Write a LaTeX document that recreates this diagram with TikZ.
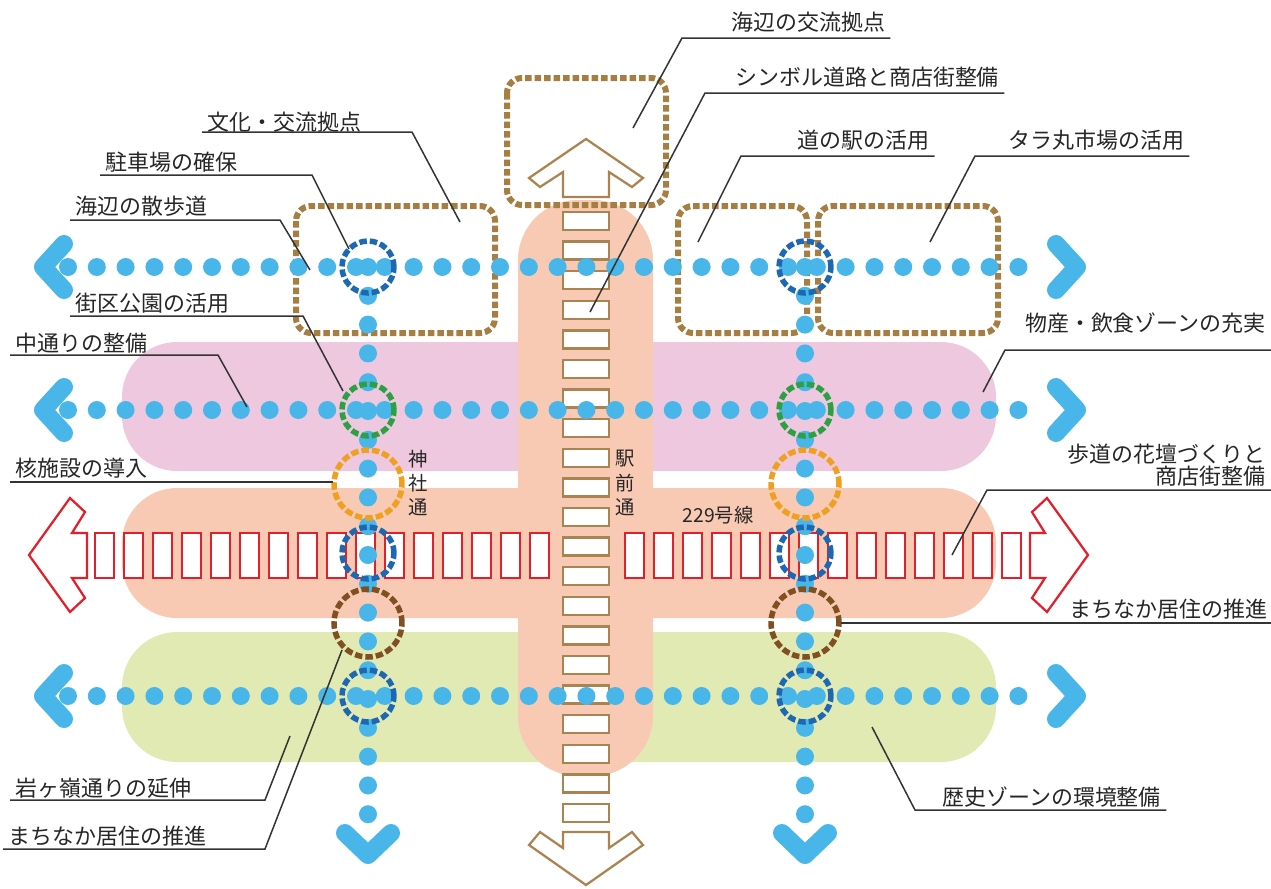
\documentclass[tikz,border=0pt]{standalone}
\usepackage{fontspec}
\newfontfamily\jpfont{Noto Sans CJK JP}
\usetikzlibrary{positioning}
\definecolor{dotblue}{RGB}{72,182,232}
\definecolor{ringblue}{RGB}{28,104,178}
\definecolor{ringgreen}{RGB}{44,160,66}
\definecolor{ringorange}{RGB}{240,160,32}
\definecolor{ringbrown}{RGB}{128,80,32}
\definecolor{boxbrown}{RGB}{166,126,66}
\definecolor{roadbrown}{RGB}{170,132,80}
\definecolor{roadred}{RGB}{226,32,44}
\definecolor{bandpink}{RGB}{238,200,222}
\definecolor{bandsalmon}{RGB}{248,202,180}
\definecolor{bandgreen}{RGB}{226,234,180}

\begin{document}
\begin{tikzpicture}[x=0.2mm, y=-0.2mm,
  band/.style={rounded corners=11mm},
  area/.style={draw=boxbrown, line width=1.2mm, dash pattern=on 1.3mm off 0.6mm, rounded corners=3mm},
  walk/.style={draw=dotblue, line width=3.6mm, line cap=round, dash pattern=on 0mm off 5.76mm},
  chev/.style={draw=dotblue, line width=3.6mm, line cap=round, line join=round},
  ring/.style={line width=1.1mm, dash pattern=on 1.5mm off 0.6mm},
  road/.style={draw=roadred, fill=white, line width=0.45mm},
  sroad/.style={draw=roadbrown, fill=white, line width=0.45mm},
  lbl/.style={font=\jpfont\fontsize{12.5}{13}\selectfont, text=black!85, inner xsep=1mm, inner ysep=0pt},
  rlbl/.style={font=\jpfont\fontsize{11}{13.7}\selectfont, text=black!85, inner sep=0pt, align=center},
  lead/.style={draw=black!80, line width=0.3mm}
]
\useasboundingbox (0,0) rectangle (1271,888);

% zones
\fill[bandpink, band] (122,342) rectangle (996,471);
\fill[bandsalmon, band] (122,488) rectangle (996,618);
\fill[bandgreen, band] (122,632) rectangle (996,762);
\fill[bandsalmon, rounded corners=12mm] (518,200) rectangle (653,776);

% dashed areas
\draw[area] (507,78) rectangle (666,205);
\draw[area] (296,206) rectangle (495,333);
\draw[area] (678,206) rectangle (807,333);
\draw[area] (818,206) rectangle (998,333);

% 229号線
\foreach \i in {0,...,15}
  \draw[road] ({95+29*\i},533) rectangle ++(19,45);
\foreach \i in {0,...,13}
  \draw[road] ({1002-29*\i},533) rectangle ++(19,45);
\draw[road] (87,533) -- (72,533) -- (85,512) -- (70,498) -- (29,555) -- (70,612)
  -- (85,598) -- (72,578) -- (87,578) -- cycle;
\draw[road] (1030,533) -- (1045,533) -- (1032,512) -- (1047,498) -- (1088,555) -- (1047,612)
  -- (1032,598) -- (1045,578) -- (1030,578) -- cycle;

% 駅前通
\foreach \i in {0,...,20}
  \draw[sroad] (563,{212+29.6*\i}) rectangle ++(46,18);
\draw[sroad] (563,197) -- (563,172) -- (540,187) -- (529,178) -- (586,139) -- (643,178)
  -- (632,187) -- (609,172) -- (609,197) -- cycle;
\draw[sroad] (563,832) -- (609,832) -- (609,848) -- (632,832) -- (643,845) -- (586,885)
  -- (529,845) -- (540,832) -- (563,848) -- cycle;

% walkways
\foreach \yy in {267,410,696} {
  \draw[walk] (68,\yy) -- (1024,\yy);
  \draw[chev] (64,{\yy-23}) -- (43,\yy) -- (64,{\yy+23});
  \draw[chev] (1056,{\yy-23}) -- (1077,\yy) -- (1056,{\yy+23});
}
\foreach \xx in {368,805} {
  \draw[walk] (\xx,267) -- (\xx,815);
  \draw[chev] ({\xx-23},833) -- (\xx,855) -- ({\xx+23},833);
}

% rings
\foreach \xx in {368,805} {
  \draw[ring, ringblue] (\xx,267) circle[radius=5.2mm];
  \draw[ring, ringgreen] (\xx,410) circle[radius=5.2mm];
  \draw[ring, ringorange] (\xx,484) circle[radius=6.8mm];
  \draw[ring, ringblue] (\xx,553) circle[radius=5.2mm];
  \draw[ring, ringbrown] (\xx,623) circle[radius=6.8mm];
  \draw[ring, ringblue] (\xx,696) circle[radius=5.2mm];
}

% road names
\node[rlbl] (jinja) at (418,483) {神\\社\\通};
\node[rlbl] (ekimae) at (625,483) {駅\\前\\通};
\node[rlbl] (r229) at (718,515) {229号線};

% labels, top
\node[lbl, anchor=base west] (umikyo) at (726,30) {海辺の交流拠点};
\draw[lead] (633,128) -- (682,38) coordinate (k1) -- (k1 -| umikyo.east);
\node[lbl, anchor=base west] (symbol) at (730,85) {シンボル道路と商店街整備};
\draw[lead] (590,312) -- (705,93) coordinate (k2) -- (k2 -| symbol.east);
\node[lbl, anchor=base west] (michieki) at (792,148) {道の駅の活用};
\draw[lead] (698,242) -- (741,156) coordinate (k3) -- (k3 -| michieki.east);
\node[lbl, anchor=base west] (taramaru) at (1003,148) {タラ丸市場の活用};
\draw[lead] (930,242) -- (975,156) coordinate (k4) -- (k4 -| taramaru.east);

% labels, left
\node[lbl, anchor=base west] (bunka) at (202,130) {文化・交流拠点};
\draw[lead] (460,222) -- (412,132) coordinate (k5) -- (k5 -| bunka.west);
\node[lbl, anchor=base west] (parking) at (100,170) {駐車場の確保};
\draw[lead] (349,249) -- (312,175) coordinate (k6) -- (k6 -| parking.west);
\node[lbl, anchor=base west] (sanpo) at (70,214) {海辺の散歩道};
\draw[lead] (310,270) -- (280,220) coordinate (k7) -- (k7 -| sanpo.west);
\node[lbl, anchor=base west] (gaiku) at (70,311) {街区公園の活用};
\draw[lead] (343,391) -- (303,316) coordinate (k8) -- (k8 -| gaiku.west);
\node[lbl, anchor=base west] (naka) at (10,351) {中通りの整備};
\draw[lead] (247,407) -- (218,355) coordinate (k9) -- (k9 -| naka.west);
\node[lbl, anchor=base west] (kaku) at (10,476) {核施設の導入};
\draw[lead] (333,482) coordinate (k10) -- (k10 -| kaku.west);
\node[lbl, anchor=base west] (iwa) at (10,796) {岩ヶ嶺通りの延伸};
\draw[lead] (290,736) -- (265,800) coordinate (k11) -- (k11 -| iwa.west);
\node[lbl, anchor=base west] (machiL) at (3,844) {まちなか居住の推進};
\draw[lead] (342,650) -- (265,849) coordinate (k12) -- (k12 -| machiL.west);

% labels, right
\node[lbl, anchor=base east] (bussan) at (1271,331) {物産・飲食ゾーンの充実};
\draw[lead] (983,392) -- (1005,350) -- (1271,350);
\node[lbl, anchor=south east, align=right] (hodo) at (1271,487) {歩道の花壇づくりと\\商店街整備};
\draw[lead] (952,555) -- (987,490) -- (1271,490);
\node[lbl, anchor=base east] (machiR) at (1273,617) {まちなか居住の推進};
\draw[lead] (841,623) -- (1271,623);
\node[lbl, anchor=base west] (rekishi) at (937,805) {歴史ゾーンの環境整備};
\draw[lead] (872,727) -- (915,810) coordinate (k16) -- (k16 -| rekishi.east);
\end{tikzpicture}
\end{document}
